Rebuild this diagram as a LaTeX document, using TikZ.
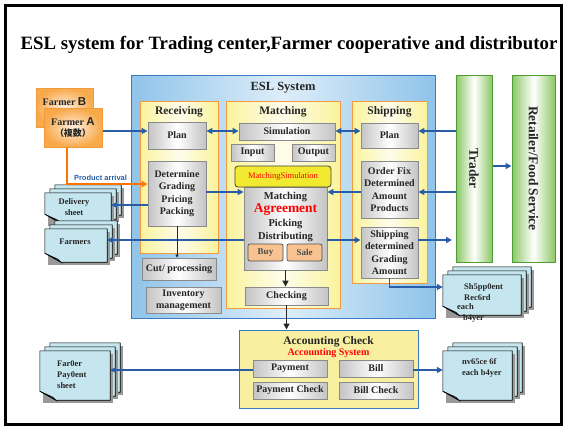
\documentclass[tikz,border=0pt]{standalone}
\usepackage{fontspec}
\setmainfont{Liberation Serif}
\newfontfamily\arialfont{Liberation Sans}
\newfontfamily\cjk{Noto Sans CJK JP}
\usetikzlibrary{arrows.meta}

\definecolor{eslblue}{HTML}{8FC4EA}
\definecolor{eslline}{HTML}{3B7BC4}
\definecolor{colfill}{HTML}{FAF39C}
\definecolor{colline}{HTML}{F19A3E}
\definecolor{boxgray}{HTML}{C4C4C4}
\definecolor{boxline}{HTML}{8A8A8A}
\definecolor{trgreen}{HTML}{8CC864}
\definecolor{trline}{HTML}{4F9D35}
\definecolor{sheetfill}{HTML}{C5E6EE}
\definecolor{arrblue}{HTML}{2A5DA8}
\definecolor{farmorange}{HTML}{F8A94A}
\definecolor{buyfill}{HTML}{F8C291}
\definecolor{msyellow}{HTML}{F2EA30}
\definecolor{acctfill}{HTML}{F8F0A0}

% three stacked sheets behind the (empty) node #1
\newcommand{\sheetstack}[1]{%
  \foreach \k in {2,1,0}{%
    \path ([shift={(5*\k,-4*\k)}]#1.north west) coordinate (snw)
          ([shift={(5*\k,-4*\k)}]#1.south east) coordinate (sse);
    \path (snw |- sse) coordinate (ssw);
    \fill[black!40] ([shift={(3,3)}]snw) rectangle ([shift={(3,3)}]sse);
    \filldraw[sheet] (snw) -- (snw -| sse) -- (sse) -- ([xshift=16pt]ssw)
        -- ([yshift=9pt]ssw) -- cycle;
    \filldraw[sheet, fill=sheetfill!70!gray] ([yshift=9pt]ssw)
        -- ([shift={(13,-3)}]ssw) -- ([xshift=16pt]ssw) -- cycle;
  }}

\begin{document}
\begin{tikzpicture}[
    x=1pt, y=-1pt,
    every node/.style={font=\bfseries, text=black!85, inner sep=0pt},
    panel/.style={draw=eslline, line width=1pt, left color=eslblue, right color=eslblue, middle color=eslblue!30},
    column/.style={draw=colline, line width=1pt, left color=colfill, right color=colfill, middle color=colfill!20},
    stepbox/.style={draw=boxline, line width=0.8pt, left color=boxgray, right color=boxgray, middle color=white,
                    align=center, font=\bfseries\fontsize{10}{12.3}\selectfont},
    head/.style={font=\bfseries\fontsize{11.5}{13}\selectfont},
    farmer/.style={draw=colline, line width=1pt, inner color=orange!12, outer color=farmorange},
    trade/.style={draw=trline, line width=1pt, left color=trgreen, right color=trgreen, middle color=white},
    deal/.style={draw=black!70, line width=0.7pt, fill=buyfill, rounded corners=2pt, text=black!70,
                 font=\bfseries\fontsize{9}{10}\selectfont},
    sheet/.style={draw=black, line width=0.6pt, fill=sheetfill},
    sheettext/.style={align=left, anchor=west, font=\bfseries\fontsize{8.5}{11}\selectfont},
    flow/.style={draw=arrblue, line width=1.5pt, -{Triangle[length=6pt, width=6pt]}},
    twoway/.style={flow, {Triangle[length=6pt, width=6pt]}-{Triangle[length=6pt, width=6pt]}},
]
\useasboundingbox (0,0) rectangle (566,429);

% ── Frame and title ─────────────────────────────────────────────────────────
\draw[line width=3pt] (5,5) rectangle (561,424);
\node[font=\bfseries\fontsize{18.8}{20}\selectfont, text=black] (title) at (289,45)
      {ESL system for Trading center,Farmer cooperative and distributor};

% row levels of the connectors
\coordinate (rowA) at (0,131);
\coordinate (rowB) at (0,192);
\coordinate (rowC) at (0,240);
\coordinate (rowD) at (0,205);
\coordinate (rowE) at (0,166);
\coordinate (rowF) at (0,184);
\coordinate (rowG) at (0,370);
\coordinate (rowH) at (0,287);

% ── Farmers ─────────────────────────────────────────────────────────────────
\node[farmer, minimum width=57pt, minimum height=39pt] (fb) at (64.5,107.5) {};
\node[font=\bfseries\fontsize{10}{11}\selectfont] (fbtext) at (64.5,102)
      {Farmer {\arialfont\fontsize{11.5}{12}\selectfont B}};
\node[farmer, minimum width=58pt, minimum height=39pt] (fa) at (73,127.5) {};
\node[align=center, font=\bfseries\fontsize{10}{11.5}\selectfont] (fatext) at (73,127.5)
      {Farmer {\arialfont\fontsize{11.5}{12}\selectfont A}\\{\cjk\fontsize{9}{10}\selectfont （複数）}};

% ── ESL System ──────────────────────────────────────────────────────────────
\node[panel, minimum width=304pt, minimum height=243pt] (esl) at (283,196.5) {};
\node[font=\bfseries\fontsize{12.5}{14}\selectfont] (esltitle) at (283,88) {ESL System};

\node[column, minimum width=78pt, minimum height=152pt] (recv) at (179,177) {};
\node[column, minimum width=114pt, minimum height=207pt] (match) at (283,204.5) {};
\node[column, minimum width=75pt, minimum height=182pt] (ship) at (389.5,192) {};
\node[head] (recvtitle) at (179,112) {Receiving};
\node[head] (matchtitle) at (283,112) {Matching};
\node[head] (shiptitle) at (389.5,112) {Shipping};

% receiving
\node[stepbox, minimum width=58pt, minimum height=27pt] (rplan) at (177,135.5) {Plan};
\node[stepbox, minimum width=58pt, minimum height=65pt] (rdet) at (177,193.5)
      {Determine\\Grading\\Pricing\\Packing};
\node[stepbox, minimum width=74pt, minimum height=22pt] (cut) at (179,269) {Cut/ processing};
\node[stepbox, minimum width=75pt, minimum height=26pt] (inv) at (183.5,300) {Inventory\\management};

% matching
\node[stepbox, minimum width=96pt, minimum height=17pt] (sim) at (287,131.5) {Simulation};
\node[stepbox, minimum width=43pt, minimum height=17pt] (inp) at (252.5,152.5) {Input};
\node[stepbox, minimum width=43pt, minimum height=17pt] (outp) at (313.5,152.5) {Output};
\node[stepbox, minimum width=83pt, minimum height=83pt] (mbox) at (285.5,228.5) {};
\node[draw=black!75, line width=0.8pt, fill=msyellow, rounded corners=3pt, text=red,
      minimum width=96pt, minimum height=21pt, font=\fontsize{8.5}{10}\selectfont] (msim) at (283,176.5)
      {MatchingSimulation};
\node[align=center, font=\bfseries\fontsize{10.5}{13.3}\selectfont] (mtext) at (285.5,217)
      {Matching\\{\color{red}\fontsize{13.5}{14}\selectfont Agreement}\\Picking\\Distributing};
\node[deal, minimum width=35pt, minimum height=17pt] (buy) at (265.5,252.5) {Buy};
\node[deal, minimum width=35pt, minimum height=17pt] (sale) at (304.5,252.5) {Sale};
\node[stepbox, minimum width=83pt, minimum height=18pt] (chk) at (286.5,296) {Checking};

% shipping
\node[stepbox, minimum width=57pt, minimum height=25pt] (splan) at (389.5,135.5) {Plan};
\node[stepbox, minimum width=57pt, minimum height=57pt] (sfix) at (389.5,189.5)
      {Order Fix\\Determined\\Amount\\Products};
\node[stepbox, minimum width=57pt, minimum height=51pt] (sdet) at (389.5,252.5)
      {Shipping\\determined\\Grading\\Amount};

% ── Trader / Retailer ───────────────────────────────────────────────────────
\node[trade, minimum width=36pt, minimum height=187pt] (trader) at (474,168.5) {};
\node[rotate=-90, font=\bfseries\fontsize{13.5}{15}\selectfont] (tradertext) at (trader) {Trader};
\node[trade, minimum width=43pt, minimum height=187pt] (retail) at (533.5,168.5) {};
\node[rotate=-90, font=\bfseries\fontsize{13.5}{15}\selectfont] (retailtext) at (retail) {Retailer/Food Service};

% ── Accounting Check ────────────────────────────────────────────────────────
\node[draw=eslline, line width=1pt, fill=acctfill, minimum width=179pt, minimum height=78pt] (acct) at (328.5,369) {};
\node[head] (accttitle) at (328.5,342) {Accounting Check};
\node[text=red, font=\bfseries\fontsize{10}{11}\selectfont] (acctsys) at (328.5,353.5) {Accounting System};
\node[stepbox, minimum width=74pt, minimum height=17pt] (pay) at (290,368.5) {Payment};
\node[stepbox, minimum width=74pt, minimum height=17pt] (bill) at (376,368.5) {Bill};
\node[stepbox, minimum width=74pt, minimum height=17pt] (paychk) at (290,390.5) {Payment Check};
\node[stepbox, minimum width=74pt, minimum height=17pt] (billchk) at (376,390.5) {Bill Check};

% ── Sheets ──────────────────────────────────────────────────────────────────
\node[minimum width=66pt, minimum height=30pt] (dlv) at (78,208) {};
\sheetstack{dlv}
\node[align=center, font=\bfseries\fontsize{8.5}{11}\selectfont] (dlvtext) at (74,207.5) {Delivery\\sheet};

\node[minimum width=62pt, minimum height=33pt] (frm) at (76,245.5) {};
\sheetstack{frm}
\node[font=\bfseries\fontsize{8.5}{11}\selectfont] (frmtext) at (75,242) {Farmers};

\node[minimum width=70pt, minimum height=49pt] (fps) at (75,375.5) {};
\sheetstack{fps}
\node[sheettext] (fpstext) at (57,375) {Far0er\\Pay0ent\\sheet};

\node[minimum width=78pt, minimum height=40pt] (shr) at (482,295) {};
\sheetstack{shr}
\node[sheettext] (shrtext) at (464,292.5) {Sh5pp0ent\\Rec6rd};
\node[sheettext] (shrtext2) at (457,313) {each\\\hspace*{6pt}b4yer};

\node[minimum width=69pt, minimum height=49pt] (bsheet) at (477.5,375.5) {};
\sheetstack{bsheet}
\node[sheettext] (bsheettext) at (462,368) {nv65ce 6f\\each b4yer};

% ── Connectors ──────────────────────────────────────────────────────────────
\draw[flow] (fa.east |- rowA) -- (rplan.west |- rowA);
\draw[twoway] (rplan.east |- rowA) -- (sim.west |- rowA);
\draw[twoway] (sim.east |- rowA) -- (splan.west |- rowA);
\draw[flow] (trader.west |- rowA) -- (splan.east |- rowA);
\draw[flow] (trader.west |- rowB) -- (sfix.east |- rowB);
\draw[flow] (sfix.west |- rowB) -- (mbox.east |- rowB);
\draw[flow] (rdet.east |- rowB) -- (mbox.west |- rowB);
\draw[flow] (mbox.west |- rowC) -- (frm.east |- rowC);
\draw[flow] (mbox.east |- rowC) -- (sdet.west |- rowC);
\coordinate (shipout) at (452,240);
\draw[flow] (sdet.east |- rowC) -- (shipout);
\draw[flow] (rdet.west |- rowD) -- (dlv.east |- rowD);
\draw[flow] (trader.east |- rowE) -- (retail.west |- rowE);
\draw[flow] (sdet.south) -- (sdet.south |- rowH) -- (shr.west |- rowH);
\draw[flow] (pay.west |- rowG) -- (fps.east |- rowG);
\draw[flow] (bill.east |- rowG) -- (bsheet.west |- rowG);

\coordinate (arrival) at ([xshift=-6pt]fa.south);
\draw[draw=orange!90!red, line width=1.5pt, -{Triangle[length=6pt, width=6pt]}]
     (arrival) -- (arrival |- rowF) -- (rdet.west |- rowF);
\node[text=arrblue, font=\arialfont\bfseries\fontsize{7.5}{8}\selectfont] (arrivaltext) at (100.5,178) {Product arrival};

\draw[black!85, line width=0.8pt, -{Triangle[length=3pt, width=3pt]}] (rdet.south) -- (rdet.south |- cut.north);
\draw[black!85, line width=1.6pt, -{Triangle[length=6pt, width=6pt]}] (mbox.south) -- (mbox.south |- chk.north);
\draw[black!85, line width=1.6pt, -{Triangle[length=6pt, width=6pt]}] (chk.south) -- (chk.south |- acct.north);

\end{tikzpicture}
\end{document}
